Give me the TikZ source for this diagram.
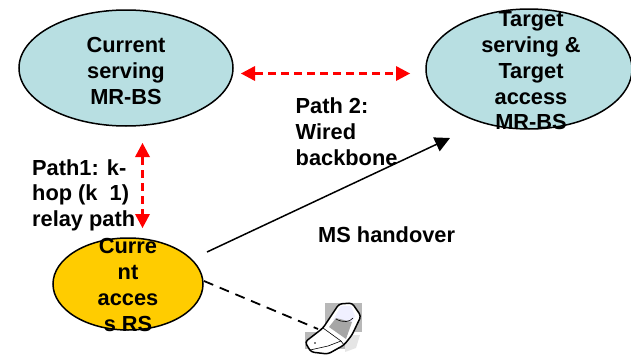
\documentclass[tikz,border=0pt]{standalone}
\usepackage{fontspec}
\setmainfont{Liberation Sans}
\usetikzlibrary{arrows.meta}
\definecolor{bsblue}{RGB}{184,223,226}
\definecolor{rsyellow}{RGB}{255,204,0}
\tikzset{
    label/.style={font=\fontsize{21.8}{25.7}\selectfont\bfseries,text=black,inner sep=0pt},
    redpath/.style={draw=red,line width=2.2pt,dash pattern=on 8pt off 5pt,{Triangle[length=14pt,width=15pt,fill=red,line width=0pt]}-{Triangle[length=14pt,width=15pt,fill=red,line width=0pt]}},
}
\begin{document}
\begin{tikzpicture}[x=1pt,y=-1pt]
    \useasboundingbox (0,0) rectangle (631,356);
    % base stations
    \draw[line width=1.5pt,fill=bsblue] (126,68) ellipse [x radius=107,y radius=58];
    \draw[line width=1.5pt,fill=bsblue] (529,69) ellipse [x radius=103,y radius=60];
    \draw[line width=1.5pt,fill=rsyellow] (128,284) ellipse [x radius=75,y radius=46];
    \node[label,align=center] (current) at (126,71) {Current\\serving\\MR-BS};
    \node[label,align=center] (target) at (531,71) {Target\\serving \&\\Target\\access\\MR-BS};
    \node[label,align=center] (access) at (128,285) {Curre\\nt\\acces\\s RS};
    % path labels
    \node[label,align=left,anchor=north west] (path1) at (32,159) {Path1: k-\\hop (k\ \ 1)\\relay path};
    \node[label,align=left,anchor=north west] (path2) at (295.5,98) {Path 2:\\Wired\\backbone};
    \node[label,anchor=west] (handover) at (318,235) {MS handover};
    % connector ends
    \coordinate (h1) at (241,73.5);
    \coordinate (h2) at (410,73.5);
    \coordinate (v1) at (142.5,143);
    \coordinate (v2) at (142.5,228);
    \coordinate (m1) at (207,252);
    \coordinate (m2) at (450,138);
    \coordinate (d1) at (204,281);
    \coordinate (d2) at (318,329);
    \draw[redpath] (h1) -- (h2);
    \draw[redpath] (v1) -- (v2);
    \draw[-{Triangle[length=15pt,width=15pt]},line width=1.5pt,black] (m1) -- (m2);
    \draw[line width=1.8pt,black,dash pattern=on 10pt off 7pt] (d1) -- (d2);
    % handset
    \fill[black!28] (325,303) rectangle (362,332);
    \fill[black!28] (305,332) rectangle (345,349);
    \fill[black!10] (345,335) -- (360,335) -- (356,348) -- (345,352) -- cycle;
    \draw[line width=1.5pt,fill=white,rounded corners=3pt] (305,342) -- (323,328) -- (339,304) -- (352,303) -- (361,316) -- (352,335) -- (344,345) -- (328,354) -- (311,352) -- cycle;
    \fill[blue!6] (333,320) -- (341,306) -- (351,306) -- (355,316) -- (352,322) -- cycle;
    \fill[black!35] (329,327) -- (336,318) -- (352,322) -- (346,339) -- cycle;
    \draw[semithick] (323,328) -- (341,341) -- (344,345);
    \draw[semithick] (336,319) .. controls (343,323) and (350,322) .. (353,318);
    \draw[semithick] (310,350) -- (328,346) -- (341,341);
    \fill[black] (315,343) circle (0.9);
\end{tikzpicture}
\end{document}
